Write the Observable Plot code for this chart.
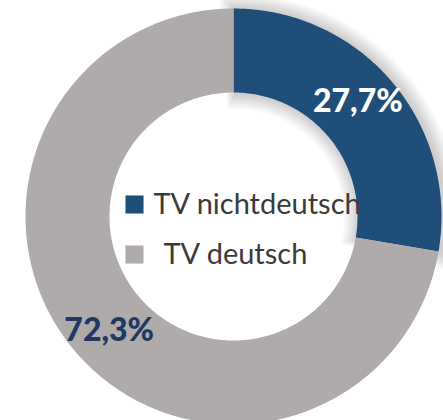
<!DOCTYPE html>
<html>
<head>
<meta charset="utf-8">
<script src="https://cdn.jsdelivr.net/npm/d3@7"></script>
<script src="https://cdn.jsdelivr.net/npm/@observablehq/plot@0.6"></script>
<style>
  html, body { margin: 0; padding: 0; background: #ffffff; }
  #chart svg { display: block; }
</style>
</head>
<body>
<div id="chart"></div>
<script>
// ---- data ----
const categories = ["TV nichtdeutsch", "TV deutsch"];
const values = [27.7, 72.3];
const valueLabels = ["27,7%", "72,3%"];
const colors = ["#1F4E79", "#AFABAB"];
const labelColors = ["#ffffff", "#203864"];

// ---- geometry (layout constants) ----
const W = 443, H = 420;
const cx = 233, cy = 216;          // pixel centre of the donut
const outerR = 208, innerR = 124;

const rows = categories.map((c, i) => ({cat: c, value: values[i], label: valueLabels[i], lc: labelColors[i]}));
const pie = d3.pie().sort(null).value(d => d.value)(rows);

// outline of an annular sector (angles clockwise from 12 o'clock), optionally grown by g
function slicePoints(p, key, g = 0, ox = 0, oy = 0) {
  const out = [];
  const ro = outerR + g, ri = Math.max(0, innerR - g);
  const a0 = p.startAngle - g / outerR, a1 = p.endAngle + g / outerR;
  const n = Math.max(8, Math.ceil((a1 - a0) / (2 * Math.PI) * 360));
  for (let k = 0; k <= n; k++) {
    const a = a0 + (a1 - a0) * k / n;
    out.push({cat: p.data.cat, key, x: ro * Math.sin(a) + ox, y: ro * Math.cos(a) + oy});
  }
  for (let k = n; k >= 0; k--) {
    const a = a0 + (a1 - a0) * k / n;
    out.push({cat: p.data.cat, key, x: ri * Math.sin(a) + ox, y: ri * Math.cos(a) + oy});
  }
  return out;
}
const slicePts = pie.flatMap(p => slicePoints(p, p.data.cat));

// soft shadow around the highlighted (first) slice: stacked translucent grown copies
const shadowPts = d3.range(1, 8).flatMap(k => slicePoints(pie[0], "s" + k, k * 2.2, 2, -1));

const labelR = 169, labelShift = -2.5 * Math.PI / 180;
const labelPts = pie.map(p => {
  const a = (p.startAngle + p.endAngle) / 2 + labelShift;
  return {label: p.data.label, lc: p.data.lc, x: labelR * Math.sin(a), y: labelR * Math.cos(a)};
});

// legend in the hole
const legendX = -99, legendY0 = 12, legendGap = 50;
const legendRows = categories.map((c, i) => ({cat: c, x: legendX, y: legendY0 - i * legendGap, tx: legendX + 19 + i * 10}));

const plot = Plot.plot({
  width: W, height: H,
  margin: 0,
  x: {domain: [-cx, W - cx], axis: null},
  y: {domain: [-(H - cy), cy], axis: null},
  color: {domain: categories, range: colors},
  style: {background: "#ffffff"},
  marks: [
    Plot.line(shadowPts, {x: "x", y: "y", z: "key", fill: "#000000", fillOpacity: 0.028, stroke: "none", curve: "linear"}),
    Plot.line(slicePts, {x: "x", y: "y", z: "key", fill: "cat", stroke: "none", curve: "linear"}),
    Plot.dot(legendRows, {x: "x", y: "y", symbol: "square", r: 10.2, fill: "cat", stroke: "none"}),
    Plot.text(legendRows, {x: "tx", y: "y", text: "cat", textAnchor: "start", fill: "#3a3a3a",
      fontSize: 29, fontFamily: "Lato"}),
    Plot.text(labelPts, {x: "x", y: "y", text: "label", fill: "lc", fontSize: 32, fontWeight: "900",
      fontFamily: "Lato"})
  ]
});

document.getElementById("chart").appendChild(plot);
</script>
</body>
</html>
